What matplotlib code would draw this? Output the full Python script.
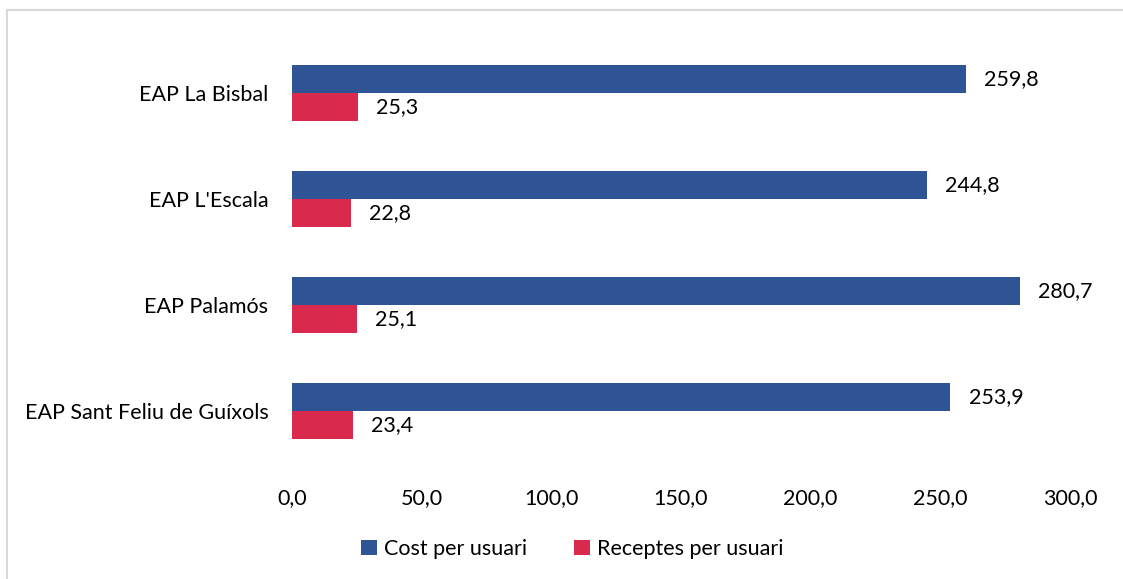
import numpy as np
import matplotlib.pyplot as plt
from matplotlib.lines import Line2D

# dades
centres = ["EAP La Bisbal", "EAP L'Escala", "EAP Palamós", "EAP Sant Feliu de Guíxols"]
cost = [259.8, 244.8, 280.7, 253.9]
receptes = [25.3, 22.8, 25.1, 23.4]
series = ["Cost per usuari", "Receptes per usuari"]
xticks = [0, 50, 100, 150, 200, 250, 300]

BLUE = "#2E5496"
RED = "#D9294D"
FS = 15.5

plt.rcParams['font.family'] = ['Lato', 'DejaVu Sans']

W, H = 1123, 579
fig = plt.figure(figsize=(W / 100, H / 100), dpi=100)
ax = fig.add_axes([292 / W, 1 - 464 / H, (1070 - 292) / W, (464 - 40) / H])

y = np.arange(len(centres))
h = 0.264
b1 = ax.barh(y - h / 2, cost, height=h, color=BLUE, label=series[0])
b2 = ax.barh(y + h / 2, receptes, height=h, color=RED, label=series[1])

def fmt(v):
    return f"{v:.1f}".replace(".", ",")

for bars, vals in ((b1, cost), (b2, receptes)):
    for bar, v in zip(bars, vals):
        ax.annotate(fmt(v), (v, bar.get_y() + bar.get_height() / 2),
                    xytext=(13, 0), textcoords="offset points",
                    va="center", ha="left", fontsize=FS, color="black")

ax.set_ylim(len(centres) - 0.5, -0.5)
ax.set_xlim(0, 300)
ax.set_yticks(y)
ax.set_yticklabels(centres, fontsize=FS)
ax.set_xticks(xticks)
ax.set_xticklabels([fmt(t) for t in xticks], fontsize=FS)
ax.tick_params(axis="both", length=0)
ax.tick_params(axis="x", pad=17)
ax.tick_params(axis="y", pad=17)
for s in ax.spines.values():
    s.set_visible(False)

fig.legend(handles=[b1, b2], labels=series, loc="center", ncol=2,
           bbox_to_anchor=(572 / W, 1 - 549 / H), frameon=False, fontsize=FS,
           handlelength=0.75, handleheight=0.75, handletextpad=0.3, columnspacing=2.2)

# marc del gràfic
fig.add_artist(Line2D([7 / W, 1], [1 - 10 / H, 1 - 10 / H], transform=fig.transFigure,
                      color="#D9D9D9", lw=1.5))
fig.add_artist(Line2D([7 / W, 7 / W], [0, 1 - 10 / H], transform=fig.transFigure,
                      color="#D9D9D9", lw=1.5))

fig.savefig("out.png", dpi=100)
